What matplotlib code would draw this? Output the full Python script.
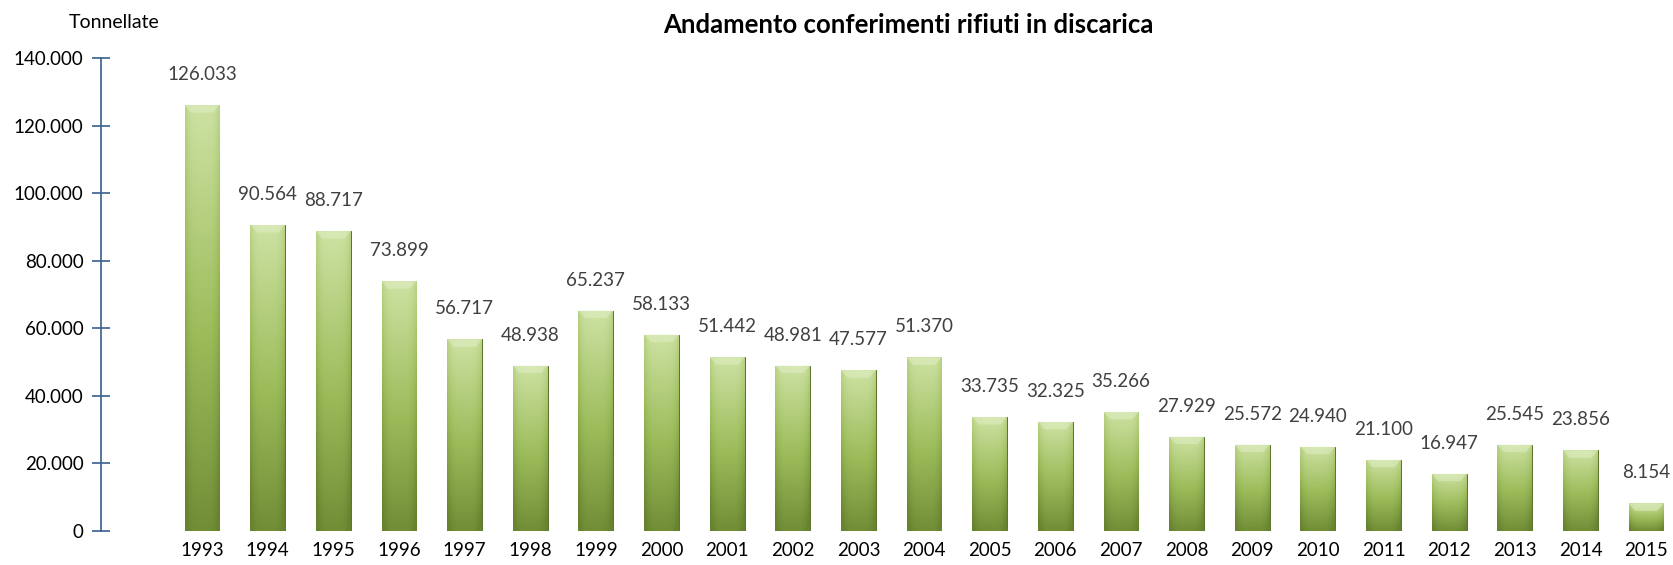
import matplotlib.pyplot as plt
import numpy as np
from matplotlib.ticker import FuncFormatter
from matplotlib.colors import LinearSegmentedColormap

plt.rcParams['font.family'] = ['Lato', 'DejaVu Sans']

anni = ['1993', '1994', '1995', '1996', '1997', '1998', '1999', '2000', '2001', '2002', '2003',
        '2004', '2005', '2006', '2007', '2008', '2009', '2010', '2011', '2012', '2013', '2014', '2015']
tonnellate = [126033, 90564, 88717, 73899, 56717, 48938, 65237, 58133, 51442, 48981, 47577,
              51370, 33735, 32325, 35266, 27929, 25572, 24940, 21100, 16947, 25545, 23856, 8154]

def it_fmt(v):
    return f'{int(round(v)):,}'.replace(',', '.')

fig = plt.figure(figsize=(16.73, 5.65), dpi=100)
ax = fig.add_axes([101 / 1673, 34 / 565, 1 - 101 / 1673, (531 - 58) / 565])

x = np.arange(len(anni))
larg = 0.53
bars = ax.bar(x, tonnellate, width=larg, color='#9bbb59', edgecolor='#5a722c', linewidth=0.7, zorder=2)

# gradiente verticale + ombreggiatura laterale dentro ogni barra
cmap = LinearSegmentedColormap.from_list('verde', ['#67832f', '#9bbb59', '#cde2a3'])
vert = np.linspace(0, 1, 256)[:, None]
oriz = np.linspace(-1, 1, 64)[None, :]
grad = vert * 0.9 + 0.1 - 0.2 * oriz ** 4
for b in bars:
    im = ax.imshow(grad, cmap=cmap, vmin=0, vmax=1, aspect='auto', origin='lower',
                   extent=[b.get_x(), b.get_x() + b.get_width(), 0, b.get_height()], zorder=2.5)
    im.set_clip_path(b)
    # smusso chiaro in cima alla barra
    h = min(2200, b.get_height() * 0.3)
    x0, w, top = b.get_x(), b.get_width(), b.get_height()
    ax.fill([x0, x0 + w, x0 + w * 0.82, x0 + w * 0.18], [top, top, top - h, top - h],
            color='#e0eec4', alpha=0.55, lw=0, zorder=2.6)

for xi, v in zip(x, tonnellate):
    ax.text(xi, v + 6500, it_fmt(v), ha='center', va='bottom', fontsize=13.5, color='#404040')

ax.set_xlim(-1.539, 22.41)
ax.set_ylim(0, 140000)
ax.set_yticks(np.arange(0, 140001, 20000))
ax.yaxis.set_major_formatter(FuncFormatter(lambda v, p: it_fmt(v)))
ax.set_xticks(x)
ax.set_xticklabels(anni)
ax.tick_params(axis='x', length=0, labelsize=13.5, pad=8)
ax.tick_params(axis='y', direction='inout', length=13, width=1.2, color='#3a5f8f', labelsize=13.5, pad=6)
for s in ['top', 'right', 'bottom']:
    ax.spines[s].set_visible(False)
ax.spines['left'].set_color('#3a5f8f')
ax.spines['left'].set_linewidth(1.2)

fig.text(114 / 1673, 1 - 22 / 565, 'Tonnellate', ha='center', va='center', fontsize=14)
fig.text(908 / 1673, 1 - 25 / 565, 'Andamento conferimenti rifiuti in discarica',
         ha='center', va='center', fontsize=18.5, fontweight='bold')

fig.savefig('out.png', dpi=100)
